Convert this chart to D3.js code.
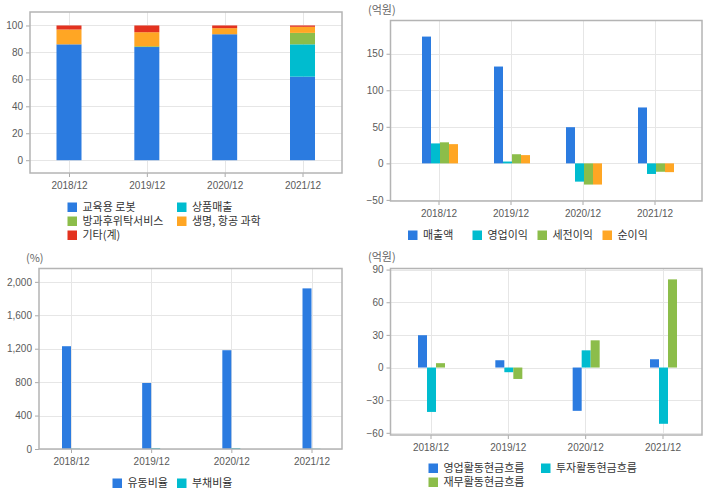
<!DOCTYPE html>
<html><head><meta charset="utf-8">
<script src="https://cdn.jsdelivr.net/npm/d3@7"></script>
<style>
body{margin:0;background:#fff;}
svg{display:block;font-family:"Noto Sans CJK KR","DejaVu Sans",sans-serif;}
.tick text{fill:#5a5a5a;font-size:10px;font-family:"Liberation Sans Narrow","Arial Narrow","Liberation Sans",sans-serif;}
</style></head><body>
<svg id="c" width="720" height="496"></svg>
<script>
const categories = ["2018/12","2019/12","2020/12","2021/12"];

// Chart 1: sales composition (%)
const compSeries = ["교육용 로봇","상품매출","방과후위탁서비스","생명, 항공 과학","기타(계)"];
const compEdu    = [86, 84, 93.5, 62];
const compGoods  = [0, 0, 0, 24];
const compAfter  = [0, 0.6, 0, 8.5];
const compSci    = [11, 10.4, 4.5, 4.5];
const compEtc    = [3, 5, 2, 1];
const compTicks  = [0,20,40,60,80,100];

// Chart 2: income (억원)
const incSeries = ["매출액","영업이익","세전이익","순이익"];
const incSales  = [173.5, 132.5, 49.5, 76.5];
const incOp     = [27.3, 2.5, -25, -14.5];
const incPre    = [28.8, 12.5, -29, -11.5];
const incNet    = [26.3, 11.3, -29, -12];
const incTicks  = [-50,0,50,100,150];

// Chart 3: ratios (%)
const ratSeries = ["유동비율","부채비율"];
const ratCur    = [1230, 790, 1182, 1922];
const ratDebt   = [4, 12, 12, 4];
const ratTicks  = [0,400,800,1200,1600,2000];

// Chart 4: cash flow (억원)
const cfSeries = ["영업활동현금흐름","투자활동현금흐름","재무활동현금흐름"];
const cfOp     = [29.7, 6.7, -39.8, 7.6];
const cfInv    = [-40.8, -4.3, 15.8, -51.7];
const cfFin    = [4, -10.5, 25, 81];
const cfTicks  = [-60,-30,0,30,60,90];

const C = {blue:"#2b7be0", cyan:"#00bccf", green:"#8cbd4a", orange:"#ffa624", red:"#e3321f"};
const svg = d3.select("#c");

function frame(box, yDomain, ticks, fmt, xRange){
  const g = svg.append("g");
  const y = d3.scaleLinear().domain(yDomain).range([box.y1, box.y0]);
  const x = d3.scalePoint().domain(categories).range(xRange);
  g.selectAll(".hg").data(ticks).join("line")
    .attr("x1",box.x0).attr("x2",box.x1)
    .attr("y1",d=>Math.round(y(d))+0.5).attr("y2",d=>Math.round(y(d))+0.5)
    .attr("stroke","#e6e6e6");
  g.selectAll(".vg").data(categories).join("line")
    .attr("x1",d=>Math.round(x(d))+0.5).attr("x2",d=>Math.round(x(d))+0.5)
    .attr("y1",box.y0).attr("y2",box.y1).attr("stroke","#e6e6e6");
  const ya = g.append("g").attr("transform",`translate(${box.x0},0)`)
    .call(d3.axisLeft(y).tickValues(ticks).tickFormat(fmt).tickSize(4).tickPadding(3));
  ya.select(".domain").remove();
  ya.selectAll(".tick line").attr("stroke","#aaa");
  const xa = g.append("g").attr("transform",`translate(0,${box.y1})`)
    .call(d3.axisBottom(x).tickSize(4).tickPadding(5));
  xa.select(".domain").remove();
  xa.selectAll(".tick line").attr("stroke","#aaa");
  return {g,x,y};
}
function border(box){
  svg.append("rect").attr("x",box.x0).attr("y",box.y0)
    .attr("width",box.x1-box.x0).attr("height",box.y1-box.y0)
    .attr("fill","none").attr("stroke","#b4b4b4").attr("stroke-width",1.5);
}
function legend(items){
  const g = svg.append("g");
  items.forEach(it=>{
    g.append("rect").attr("x",it.x).attr("y",it.y-4.5).attr("width",9.5).attr("height",9.5).attr("fill",it.c);
    g.append("text").attr("x",it.x+15).attr("y",it.y+4).attr("font-size","11px").attr("fill","#333").text(it.t);
  });
}
function unit(x,y,t){
  svg.append("text").attr("x",x).attr("y",y).attr("font-size","11px").attr("fill","#666").text(t);
}
function grouped(f, seriesVals, colors, bw, offset){
  const n = seriesVals.length;
  seriesVals.forEach((vals,si)=>{
    f.g.selectAll(null).data(vals).join("rect")
      .attr("x",(d,i)=>f.x(categories[i]) + offset - n*bw/2 + si*bw)
      .attr("width",bw)
      .attr("y",d=>Math.min(f.y(d),f.y(0)))
      .attr("height",d=>Math.abs(f.y(d)-f.y(0)))
      .attr("fill",colors[si]);
  });
}

// ---- Chart 1 ----
{
  const box={x0:30,x1:342,y0:12,y1:173};
  const f = frame(box,[-9.5,110],compTicks,d3.format("d"),[69,302.5]);
  const layers=[compEdu,compGoods,compAfter,compSci,compEtc];
  const cols=[C.blue,C.cyan,C.green,C.orange,C.red];
  const rows = categories.map((c,i)=>{const o={cat:c}; compSeries.forEach((s,k)=>o[s]=layers[k][i]); return o;});
  const st = d3.stack().keys(compSeries)(rows);
  st.forEach((layer,k)=>{
    f.g.selectAll(null).data(layer).join("rect")
      .attr("x",d=>f.x(d.data.cat)-12.5).attr("width",25)
      .attr("y",d=>f.y(d[1])).attr("height",d=>Math.max(0,f.y(d[0])-f.y(d[1])))
      .attr("fill",cols[k]);
  });
  border(box);
  legend([
    {x:67.5,y:207,c:C.blue,t:compSeries[0]},{x:177,y:207,c:C.cyan,t:compSeries[1]},
    {x:67.5,y:221,c:C.green,t:compSeries[2]},{x:177,y:221,c:C.orange,t:compSeries[3]},
    {x:67.5,y:235,c:C.red,t:compSeries[4]}
  ]);
}
// ---- Chart 2 ----
{
  const box={x0:390.5,x1:702,y0:20.5,y1:201};
  const f = frame(box,[-51.5,195.5],incTicks,d3.format("d"),[438.5,654.5]);
  grouped(f,[incSales,incOp,incPre,incNet],[C.blue,C.cyan,C.green,C.orange],9,1.5);
  border(box);
  unit(368,14,"(억원)");
  legend([
    {x:408,y:235,c:C.blue,t:incSeries[0]},{x:472.5,y:235,c:C.cyan,t:incSeries[1]},
    {x:537.5,y:235,c:C.green,t:incSeries[2]},{x:602.5,y:235,c:C.orange,t:incSeries[3]}
  ]);
}
// ---- Chart 3 ----
{
  const box={x0:39,x1:342,y0:268.5,y1:449};
  const f = frame(box,[0,2160],ratTicks,d3.format(","),[71,311.5]);
  grouped(f,[ratCur,ratDebt],[C.blue,C.cyan],9,0);
  border(box);
  unit(26,262,"(%)");
  legend([
    {x:112.5,y:483,c:C.blue,t:ratSeries[0]},{x:177,y:483,c:C.cyan,t:ratSeries[1]}
  ]);
}
// ---- Chart 4 ----
{
  const box={x0:390.5,x1:702,y0:268.5,y1:435};
  const f = frame(box,[-62,91],cfTicks,d3.format("d"),[430.5,662.5]);
  grouped(f,[cfOp,cfInv,cfFin],[C.blue,C.cyan,C.green],9,1);
  border(box);
  unit(368,261,"(억원)");
  legend([
    {x:428.5,y:468,c:C.blue,t:cfSeries[0]},{x:541,y:468,c:C.cyan,t:cfSeries[1]},
    {x:428.5,y:482,c:C.green,t:cfSeries[2]}
  ]);
}
</script></body></html>
